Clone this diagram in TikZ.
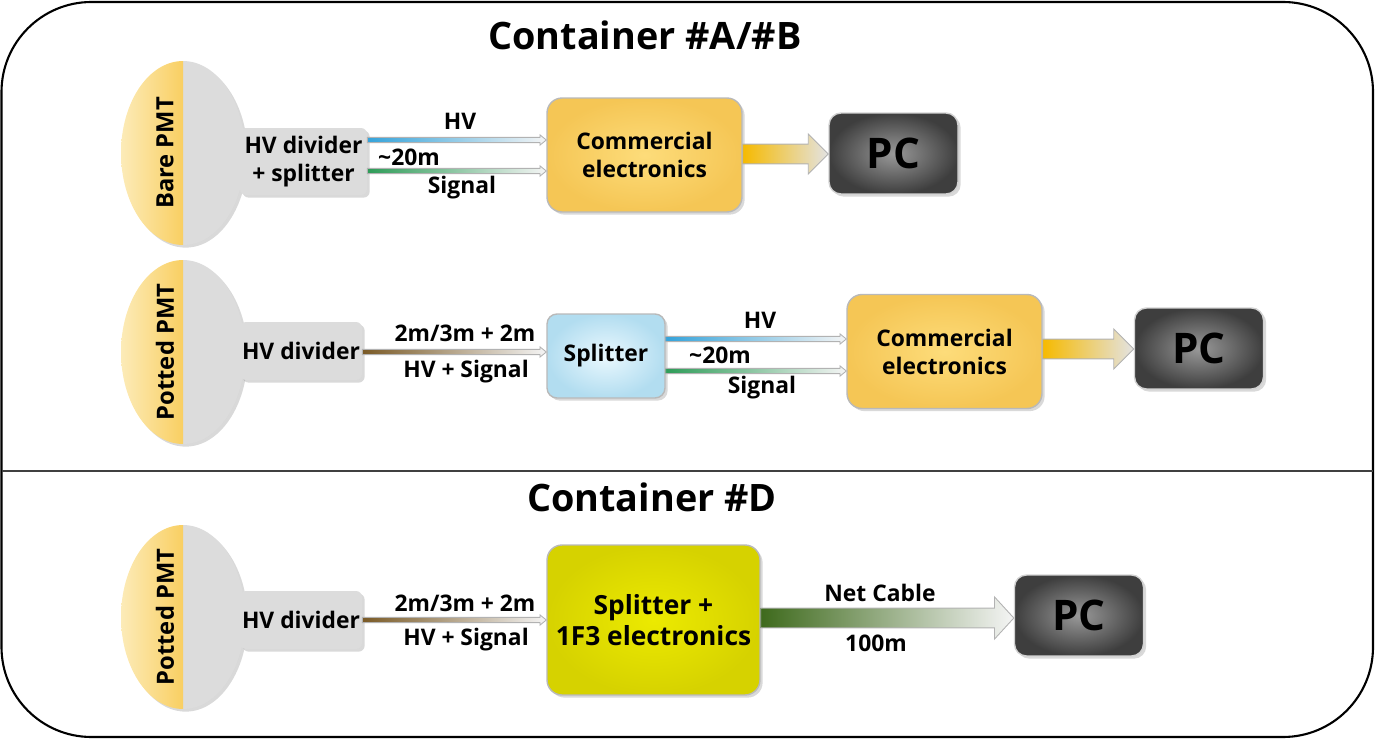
\documentclass[tikz,border=0pt]{standalone}
\usepackage{fontspec}
\setmainfont{Open Sans}
\usetikzlibrary{calc,shadows,shapes.geometric}

\definecolor{pmtlight}{HTML}{FCEBB8}
\definecolor{pmtdark}{HTML}{F9CF62}
\definecolor{pmtgray}{HTML}{DCDCDC}
\definecolor{elecin}{HTML}{FDDC7A}
\definecolor{elecout}{HTML}{F5C655}
\definecolor{splin}{HTML}{EAF8FE}
\definecolor{splout}{HTML}{B2DDF0}
\definecolor{febin}{HTML}{ECEA00}
\definecolor{febout}{HTML}{D6D200}
\definecolor{pcin}{HTML}{999999}
\definecolor{pcout}{HTML}{3E3E3E}
\definecolor{hvblue}{HTML}{35A3DA}
\definecolor{sigreen}{HTML}{2E9C58}
\definecolor{linkdark}{HTML}{7A5A26}
\definecolor{linkgold}{HTML}{C9A24E}
\definecolor{outorange}{HTML}{F6BA00}
\definecolor{netdark}{HTML}{3E6A1C}
\definecolor{netlight}{HTML}{8EC742}

\newcommand{\boxfont}{\fontsize{13}{16}\selectfont\bfseries}
\newcommand{\pmtfont}{\fontsize{13.5}{16}\selectfont\bfseries}
\newcommand{\febfont}{\fontsize{15}{17.5}\selectfont\bfseries}
\newcommand{\pcfont}{\fontsize{24}{28}\selectfont\bfseries}
\newcommand{\ctitlefont}{\fontsize{21.5}{26}\selectfont\bfseries}

% arrow body: shading, from node, to node, level, body half, head half, tip length
\newcommand{\flow}[7]{%
  \shade[#1, draw=gray!60, line width=0.5pt] let \p1=(#2 |- #4), \p2=(#3 |- #4) in
    (\x1,\y1+#5) -- (\x2-#7,\y1+#5) -- (\x2-#7,\y1+#6) -- (\x2,\y1)
    -- (\x2-#7,\y1-#6) -- (\x2-#7,\y1-#5) -- (\x1,\y1-#5) -- cycle;}
\newcommand{\cable}[4]{\flow{left color=#4, right color=gray!8}{#1}{#2}{#3}{1.5pt}{2.9pt}{3.6pt}}

\begin{document}
\begin{tikzpicture}[x=0.02cm, y=-0.02cm,
    shadowed/.style={drop shadow={shadow xshift=1.5pt, shadow yshift=-1.5pt, opacity=0.3}},
    pmt/.style={ellipse, minimum width=2.48cm, minimum height=3.68cm, inner sep=0pt, shadowed,
      path picture={
        \fill[pmtgray] (path picture bounding box.north) rectangle (path picture bounding box.south east);
        \shade[left color=pmtlight, right color=pmtdark] (path picture bounding box.south west) rectangle (path picture bounding box.north);}},
    pmttext/.style={rotate=90, font=\pmtfont},
    divbox/.style={rectangle, rounded corners=0.12cm, fill=pmtgray, align=center, inner sep=0pt, font=\boxfont, shadowed},
    box/.style={rectangle, rounded corners=0.3cm, draw=gray!55, line width=0.8pt, align=center, font=\boxfont, shadowed},
    elec/.style={box, inner color=elecin, outer color=elecout, minimum width=3.9cm, minimum height=2.28cm},
    pcbox/.style={box, rounded corners=0.24cm, draw=gray!35, inner color=pcin, outer color=pcout,
      minimum width=2.58cm, minimum height=1.62cm, font=\pcfont},
    lbl/.style={font=\boxfont, inner sep=0pt}]
\useasboundingbox (0,0) rectangle (1375,739);

% frame
\draw[line width=1.2pt, rounded corners=1.8cm] (1.5,2) rectangle (1373,737);
\draw[line width=0.9pt, black!75] (1.5,471) -- (1373,471);
\node[font=\ctitlefont] (titleAB) at (645,35) {Container \#A/\#B};
\node[font=\ctitlefont] (titleD) at (652,497) {Container \#D};

% levels of the cables
\coordinate (hvA) at (0,140);
\coordinate (sigA) at (0,171);
\coordinate (outA) at (0,154);
\coordinate (linkB) at (0,352);
\coordinate (hvB) at (0,339);
\coordinate (sigB) at (0,371);
\coordinate (outB) at (0,349);
\coordinate (linkC) at (0,620);
\coordinate (netC) at (0,618);

% row 1: bare PMT
\node[pmt] (pmtA) at (183,153) {};
\node[pmttext] (pmtAtext) at (165,153) {Bare PMT};
\node[divbox, minimum width=2.54cm, minimum height=1.34cm] (divA) at (303.5,161.5) {HV divider\\+ splitter};
\node[elec] (elecA) at (644.5,155) {Commercial\\electronics};
\node[pcbox] (pcA) at (893.5,153.5) {PC};
\cable{divA.east}{elecA.west}{hvA}{hvblue}
\cable{divA.east}{elecA.west}{sigA}{sigreen}
\flow{left color=outorange, right color=gray!22}{elecA.east}{pcA.west}{outA}{5.6pt}{11.4pt}{11.4pt}
\node[lbl] (hvAtext) at (460,121) {HV};
\node[lbl] (lenAtext) at (409,157) {\textasciitilde 20m};
\node[lbl] (sigAtext) at (462,188) {Signal};

% row 2: potted PMT with splitter
\node[pmt] (pmtB) at (183,352) {};
\node[pmttext] (pmtBtext) at (165,352) {Potted PMT};
\node[divbox, minimum width=2.44cm, minimum height=1.16cm] (divB) at (301,351) {HV divider};
\node[box, rounded corners=0.2cm, inner color=splin, outer color=splout, minimum width=2.36cm, minimum height=1.68cm] (splB) at (606,356) {Splitter};
\node[elec] (elecB) at (944.5,351.5) {Commercial\\electronics};
\node[pcbox] (pcB) at (1199,348.5) {PC};
\flow{left color=linkdark, middle color=linkgold, right color=gray!8}{divB.east}{splB.west}{linkB}{1.5pt}{2.9pt}{3.6pt}
\cable{splB.east}{elecB.west}{hvB}{hvblue}
\cable{splB.east}{elecB.west}{sigB}{sigreen}
\flow{left color=outorange, right color=gray!22}{elecB.east}{pcB.west}{outB}{5.6pt}{11.4pt}{11.4pt}
\node[lbl] (linkBtop) at (465,333) {2m/3m + 2m};
\node[lbl] (linkBbot) at (466,372) {HV + Signal};
\node[lbl] (hvBtext) at (760,320) {HV};
\node[lbl] (lenBtext) at (720,355) {\textasciitilde 20m};
\node[lbl] (sigBtext) at (762,388) {Signal};

% row 3: container D
\node[pmt] (pmtC) at (183,617) {};
\node[pmttext] (pmtCtext) at (165,617) {Potted PMT};
\node[divbox, minimum width=2.44cm, minimum height=1.16cm] (divC) at (301,620) {HV divider};
\node[box, inner color=febin, outer color=febout, minimum width=4.26cm, minimum height=3cm, font=\febfont] (febC) at (653.5,620) {Splitter +\\1F3 electronics};
\node[pcbox] (pcC) at (1079,615.5) {PC};
\flow{left color=linkdark, middle color=linkgold, right color=gray!8}{divC.east}{febC.west}{linkC}{1.5pt}{2.9pt}{3.6pt}
\flow{left color=netdark, middle color=netlight, right color=gray!8}{febC.east}{pcC.west}{netC}{5.6pt}{12pt}{11pt}
\node[lbl] (linkCtop) at (465,603) {2m/3m + 2m};
\node[lbl] (linkCbot) at (466,640) {HV + Signal};
\node[lbl] (netCtop) at (880,593) {Net Cable};
\node[lbl] (netCbot) at (876,643) {100m};
\end{tikzpicture}
\end{document}
